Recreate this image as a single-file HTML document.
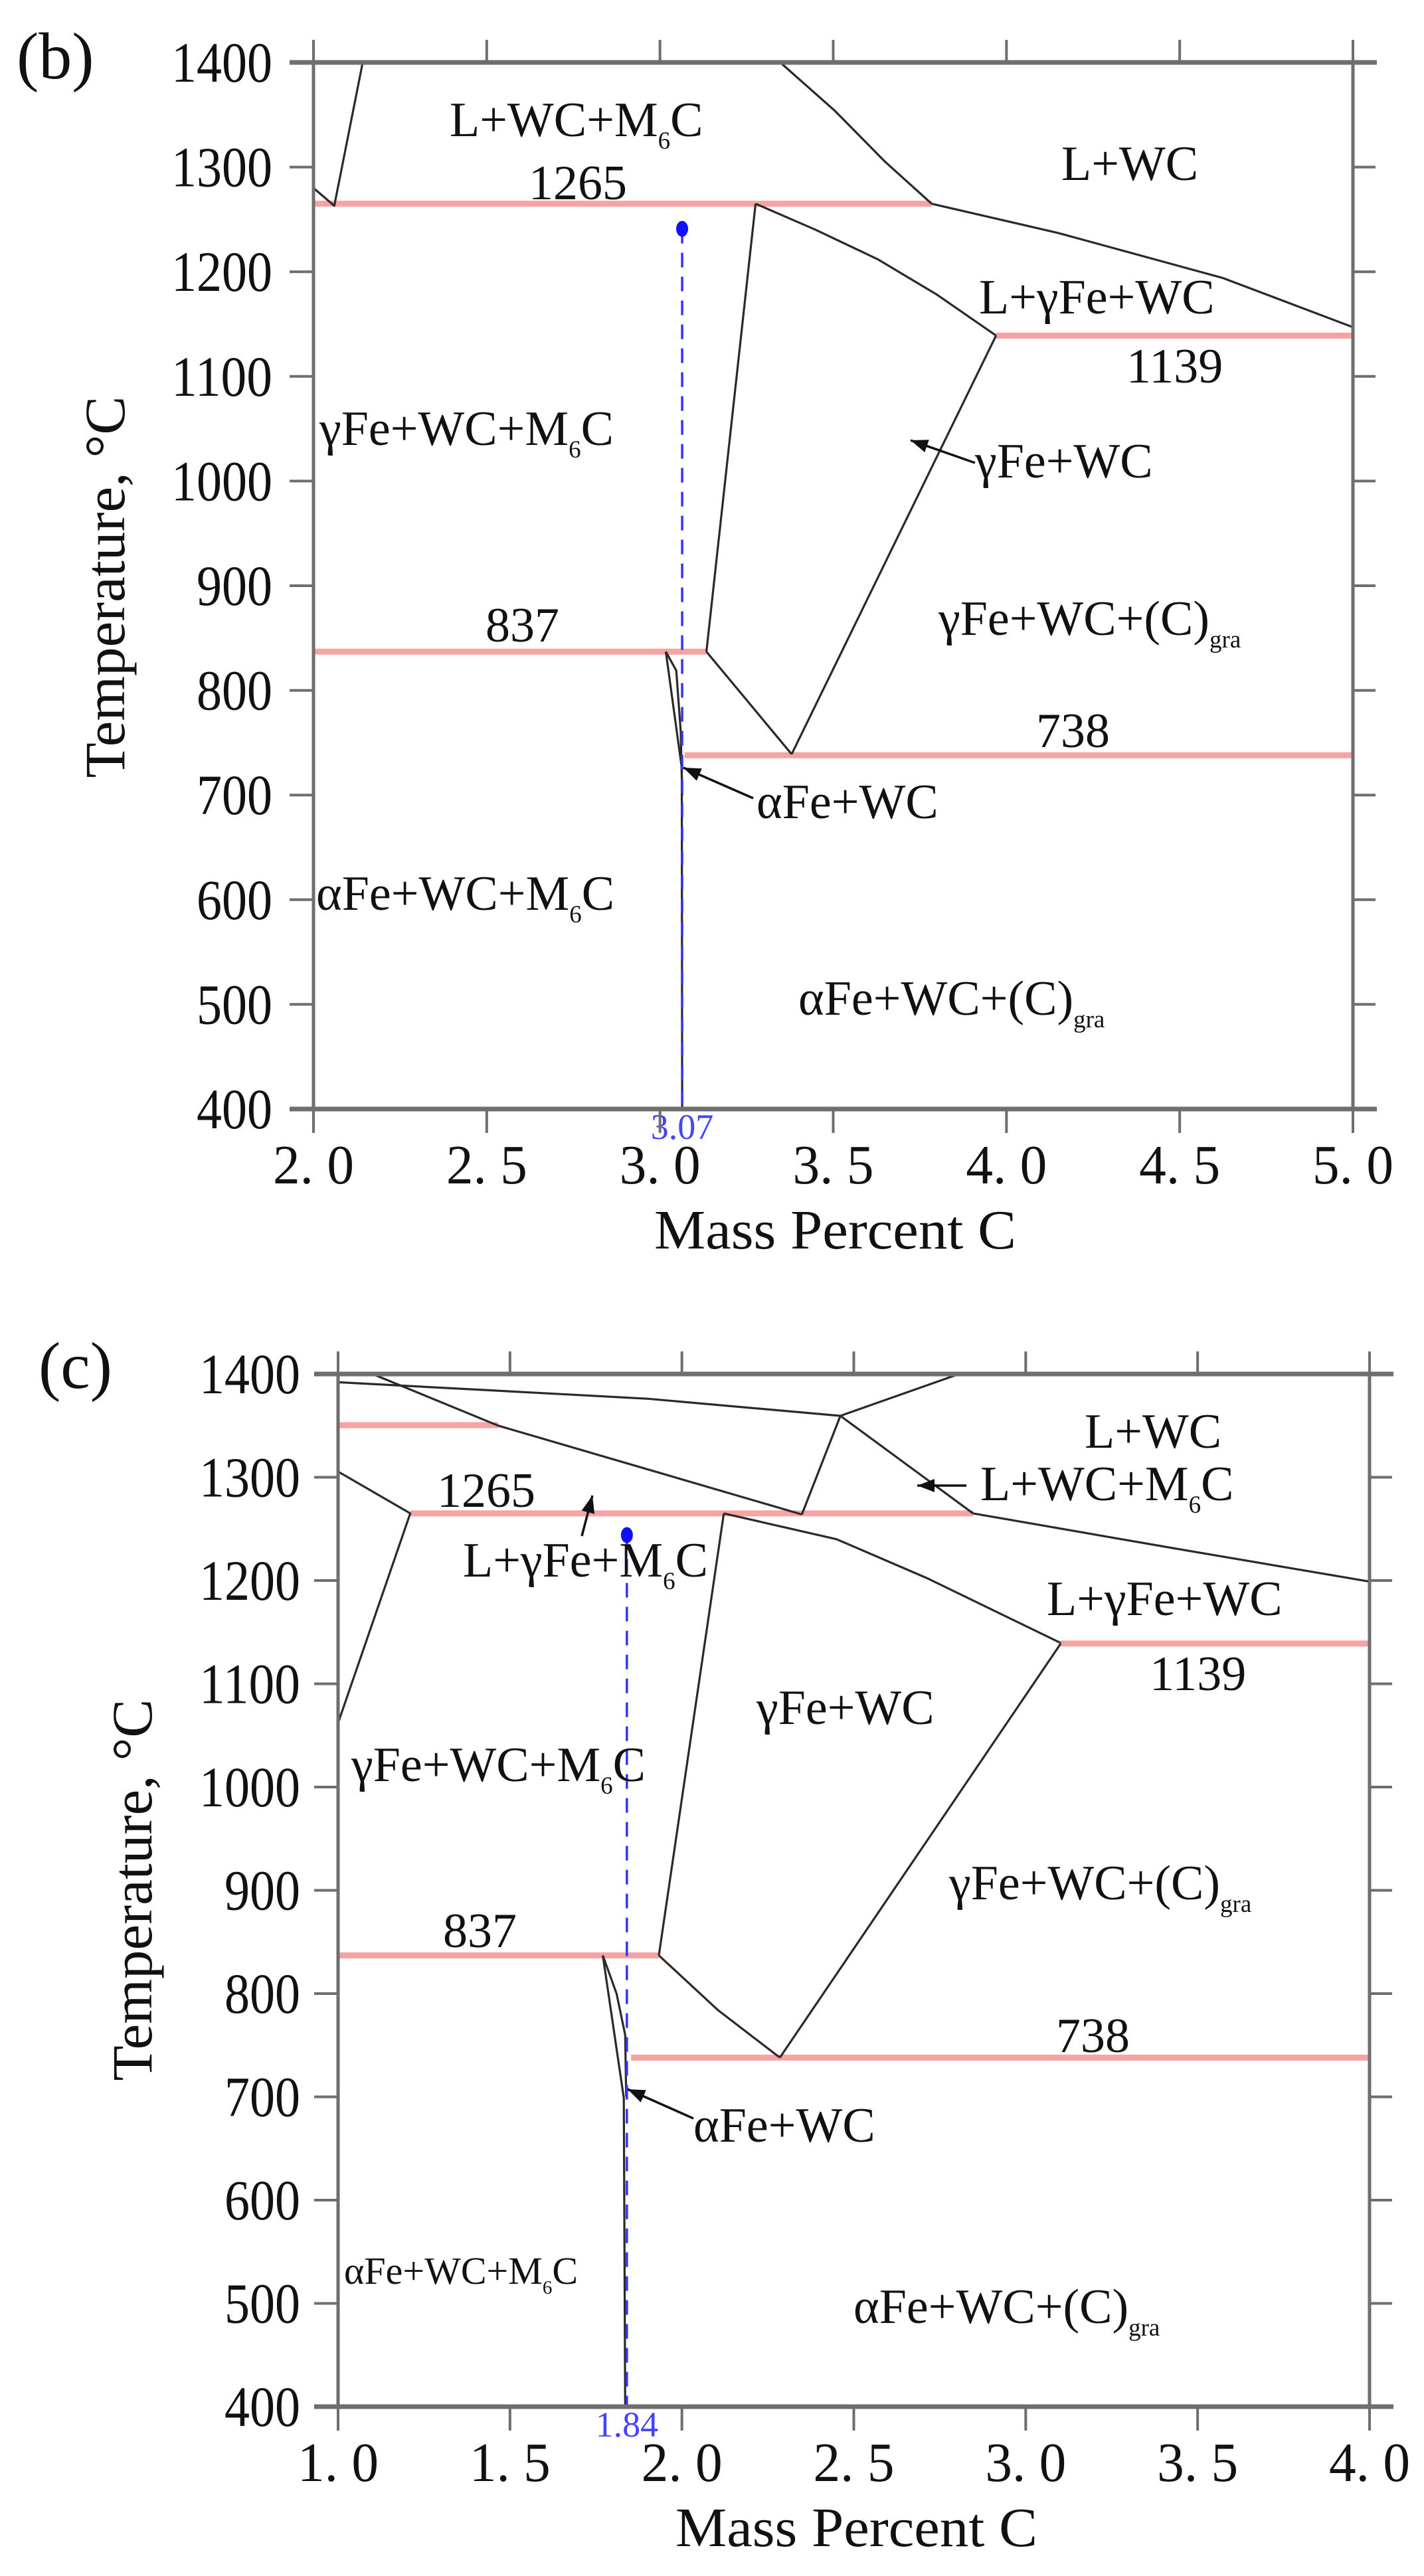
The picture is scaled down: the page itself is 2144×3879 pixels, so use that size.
<!DOCTYPE html>
<html>
<head>
<meta charset="utf-8">
<style>
  html,body{margin:0;padding:0;background:#fff;}
  svg{display:block;}
  text{font-family:"Liberation Serif",serif;fill:#111;}
</style>
</head>
<body>
<svg id="chart" width="2144" height="3879" viewBox="0 0 2144 3879" xmlns="http://www.w3.org/2000/svg">
  <rect x="0" y="0" width="2144" height="3879" fill="#fff"/>
</svg>
<script>
// ---------- Panel (b) data ----------
const bXTicks = [2.0, 2.5, 3.0, 3.5, 4.0, 4.5, 5.0];
const bXTickLabels = ["2. 0","2. 5","3. 0","3. 5","4. 0","4. 5","5. 0"];
const yTicks = [400,500,600,700,800,900,1000,1100,1200,1300,1400];
const bIsotherms = [[2.0,3.784,1265],[3.97,5.0,1139],[2.0,3.134,837],[3.071,5.0,738]];
const bBoundaries = [
  [[2.0,1280],[2.06,1263],[2.142,1400]],
  [[3.347,1400],[3.504,1354],[3.65,1305],[3.784,1265]],
  [[3.784,1265],[4.15,1237],[4.625,1194],[5.0,1147]],
  [[3.276,1265],[3.45,1240],[3.628,1212],[3.8,1178],[3.97,1139]],
  [[3.276,1265],[3.134,837]],
  [[3.97,1139],[3.38,739]],
  [[3.134,837],[3.38,739]],
  [[3.017,837],[3.063,726],[3.064,400]],
  [[3.017,837],[3.047,819],[3.06,760],[3.064,700]]
];
const bComposition = [3.064, 1241];
const bCompLabel = "3.07";

// ---------- Panel (c) data ----------
const cXTicks = [1.0, 1.5, 2.0, 2.5, 3.0, 3.5, 4.0];
const cXTickLabels = ["1. 0","1. 5","2. 0","2. 5","3. 0","3. 5","4. 0"];
const cIsotherms = [[1.0,1.466,1350.5],[1.21,2.847,1265],[3.102,4.0,1139],[1.0,1.933,837],[1.852,4.0,738]];
const cBoundaries = [
  [[1.10,1400],[1.466,1350],[2.349,1264]],
  [[1.0,1392],[1.455,1384],[1.902,1376],[2.461,1359.5]],
  [[2.461,1359.5],[2.806,1400]],
  [[2.461,1359.5],[2.349,1264]],
  [[2.461,1359.5],[2.847,1265]],
  [[1.0,1305.5],[1.21,1265],[1.0,1062]],
  [[2.847,1265],[3.426,1231.5],[4.0,1199]],
  [[2.122,1265],[2.45,1240],[2.715,1202],[3.102,1139.5]],
  [[2.122,1265],[1.933,837]],
  [[3.102,1139],[2.285,738]],
  [[1.933,837],[2.105,784],[2.285,738]],
  [[1.770,837],[1.831,699],[1.835,400]],
  [[1.770,837],[1.81,800],[1.835,760],[1.838,700]]
];
const cComposition = [1.84, 1244];
const cCompLabel = "1.84";

const NS = "http://www.w3.org/2000/svg";
const svg = document.getElementById('chart');

function mk(tag, attrs, parent){
  const e = document.createElementNS(NS, tag);
  for (const k in attrs) e.setAttribute(k, attrs[k]);
  (parent||svg).appendChild(e);
  return e;
}

function drawPanel(p){
  const g = mk('g', {});
  
  
  const X = v => p.px0 + (v - p.xmin) / (p.xmax - p.xmin) * (p.px1 - p.px0);
  const Y = t => p.py1400 + (1400 - t) / 1000 * (p.py400 - p.py1400);

  // isotherms (red)
  p.iso.forEach(r => {
    const l = mk('line', {x1:X(r[0]), x2:X(r[1]), y1:Y(r[2]), y2:Y(r[2]), stroke:'#f7a3a3', 'stroke-width':9}, g);
    
    
  });
  // boundaries
  p.bounds.forEach((pts, i) => {
    const d = pts.map((q, j) => (j ? 'L' : 'M') + X(q[0]).toFixed(1) + ' ' + Y(q[1]).toFixed(1)).join(' ');
    const pa = mk('path', {d:d, fill:'none', stroke:'#2a2a2a', 'stroke-width':3.2, 'stroke-linejoin':'round'}, g);
    
    
  });
  // composition line
  const cx = X(p.comp[0]);
  const dl = mk('line', {x1:cx, x2:cx, y1:Y(p.comp[1]), y2:Y(400), stroke:'#3333ff', 'stroke-width':3.5, 'stroke-dasharray':'22 14'}, g);
  
  
  const dot = mk('ellipse', {cx:cx, cy:Y(p.comp[1]), rx:9, ry:12, fill:'#1010ff'}, g);
  
  
  const cl = mk('text', {x:cx, y:Y(400) + 45, 'text-anchor':'middle', 'font-size':54, style:'fill:#4444ff'}, g);
  cl.textContent = p.compLabel;
  
  

  // axes frame
  const ax = '#6e6e6e';
  const fr = mk('g', {}, g);
  
  
  mk('line', {x1:X(p.xmin), x2:X(p.xmin), y1:Y(1400), y2:Y(400), stroke:ax, 'stroke-width':5}, fr);
  mk('line', {x1:X(p.xmax), x2:X(p.xmax), y1:Y(1400), y2:Y(400), stroke:ax, 'stroke-width':5}, fr);
  mk('line', {x1:X(p.xmin)-36, x2:X(p.xmax)+36, y1:Y(1400), y2:Y(1400), stroke:ax, 'stroke-width':7}, fr);
  mk('line', {x1:X(p.xmin)-36, x2:X(p.xmax)+36, y1:Y(400), y2:Y(400), stroke:ax, 'stroke-width':7}, fr);

  // y ticks + labels
  yTicks.forEach(t => {
    mk('line', {x1:X(p.xmin)-36, x2:X(p.xmin), y1:Y(t), y2:Y(t), stroke:ax, 'stroke-width':4}, g);
    mk('line', {x1:X(p.xmax), x2:X(p.xmax)+34, y1:Y(t), y2:Y(t), stroke:ax, 'stroke-width':4}, g);
    const s = String(t);
    const tl = mk('text', {x:p.ylabRight, y:Y(t)+29, 'text-anchor':'end', 'font-size':86, textLength:s.length*38, lengthAdjust:'spacingAndGlyphs'}, g);
    tl.textContent = s;
    
    
  });
  // x ticks + labels
  p.xticks.forEach((v, i) => {
    mk('line', {x1:X(v), x2:X(v), y1:Y(1400), y2:Y(1400)-34, stroke:ax, 'stroke-width':4}, g);
    mk('line', {x1:X(v), x2:X(v), y1:Y(400), y2:Y(400)+36, stroke:ax, 'stroke-width':4}, g);
    const tl = mk('text', {x:X(v), y:Y(400)+112, 'text-anchor':'middle', 'font-size':84, textLength:122, lengthAdjust:'spacingAndGlyphs'}, g);
    tl.textContent = p.xlabels[i];
    
    
  });
  // axis titles
  const xt = mk('text', {x:p.xtitleX, y:Y(400)+210, 'font-size':84, textLength:545, lengthAdjust:'spacingAndGlyphs'}, g);
  xt.textContent = 'Mass Percent C';
  
  
  const yt = mk('text', {x:0, y:0, 'font-size':86, 'text-anchor':'middle', textLength:575, lengthAdjust:'spacingAndGlyphs', transform:'translate(' + p.ytitleX + ',' + p.ytitleY + ') rotate(-90)'}, g);
  yt.textContent = 'Temperature, °C';
  
  
  // panel letter
  const pl = mk('text', {x:p.letterX, y:p.letterY, 'font-size':100}, g);
  pl.textContent = p.letter;
  
  

  // region labels
  p.labels.forEach(L => {
    const t = mk('text', {x:L[0], y:L[1]+25, 'font-size':L[3]||74}, g);
    
    
    const fs = L[3]||74;
    L[2].forEach(part => {
      const ts = document.createElementNS(NS, 'tspan');
      if (part[1]) {
        ts.setAttribute('font-size', Math.round(fs*0.5));
        ts.setAttribute('dy', Math.round(fs*0.25));
      } else if (part[2]) {
        ts.setAttribute('dy', -Math.round(fs*0.25));
      }
      ts.textContent = part[0];
      t.appendChild(ts);
    });
  });
  // arrows
  p.arrows.forEach(a => {
    const ar = mk('g', {}, g);
    
    
    mk('line', {x1:a[0], y1:a[1], x2:a[2], y2:a[3], stroke:'#111', 'stroke-width':3.5}, ar);
    const ang = Math.atan2(a[3]-a[1], a[2]-a[0]);
    const L = 26, W = 10;
    const bx = a[2] - L*Math.cos(ang), by = a[3] - L*Math.sin(ang);
    const pts = [[a[2],a[3]],[bx - W*Math.sin(ang), by + W*Math.cos(ang)],[bx + W*Math.sin(ang), by - W*Math.cos(ang)]];
    mk('polygon', {points: pts.map(q => q.join(',')).join(' '), fill:'#111'}, ar);
  });
}

const M6C = [["L+WC+M"],["6",1],["C",0,1]];
drawPanel({
  name:'panel-b', letter:'(b)', letterX:25, letterY:118,
  xmin:2, xmax:5, px0:472, px1:2037, py1400:94, py400:1670,
  xticks:bXTicks, xlabels:bXTickLabels, iso:bIsotherms, bounds:bBoundaries,
  comp:bComposition, compLabel:bCompLabel,
  ylabRight:410, xtitleX:985, ytitleX:187, ytitleY:884,
  labels:[
    [677,180,M6C],
    [796,275,[["1265"]]],
    [1598,246,[["L+WC"]]],
    [1474,447,[["L+γFe+WC"]]],
    [1696,551,[["1139"]]],
    [481,645,[["γFe+WC+M"],["6",1],["C",0,1]]],
    [1468,694,[["γFe+WC"]]],
    [1413,931,[["γFe+WC+(C)"],["gra",1]]],
    [731,941,[["837"]]],
    [1560,1100,[["738"]]],
    [1139,1207,[["αFe+WC"]]],
    [476,1345,[["αFe+WC+M"],["6",1],["C",0,1]]],
    [1202,1503,[["αFe+WC+(C)"],["gra",1]]]
  ],
  arrows:[[1468,697,1371,663],[1134,1202,1029,1156]]
});
drawPanel({
  name:'panel-c', letter:'(c)', letterX:58, letterY:2090,
  xmin:1, xmax:4, px0:509, px1:2062, py1400:2069, py400:3624,
  xticks:cXTicks, xlabels:cXTickLabels, iso:cIsotherms, bounds:cBoundaries,
  comp:cComposition, compLabel:cCompLabel,
  ylabRight:452, xtitleX:1017, ytitleX:228, ytitleY:2846,
  labels:[
    [1633,2155,[["L+WC"]]],
    [1476,2234,M6C],
    [658,2244,[["1265"]]],
    [697,2349,[["L+γFe+M"],["6",1],["C",0,1]]],
    [1576,2407,[["L+γFe+WC"]]],
    [1731,2520,[["1139"]]],
    [1139,2571,[["γFe+WC"]]],
    [529,2657,[["γFe+WC+M"],["6",1],["C",0,1]]],
    [1429,2835,[["γFe+WC+(C)"],["gra",1]]],
    [667,2907,[["837"]]],
    [1590,3065,[["738"]]],
    [1044,3200,[["αFe+WC"]]],
    [518,3414,[["αFe+WC+M"],["6",1],["C",0,1]],58],
    [1285,3473,[["αFe+WC+(C)"],["gra",1]]]
  ],
  arrows:[[1455,2237,1381,2237],[876,2313,892,2252],[1044,3190,945,3146]]
});
</script>
</body>
</html>
